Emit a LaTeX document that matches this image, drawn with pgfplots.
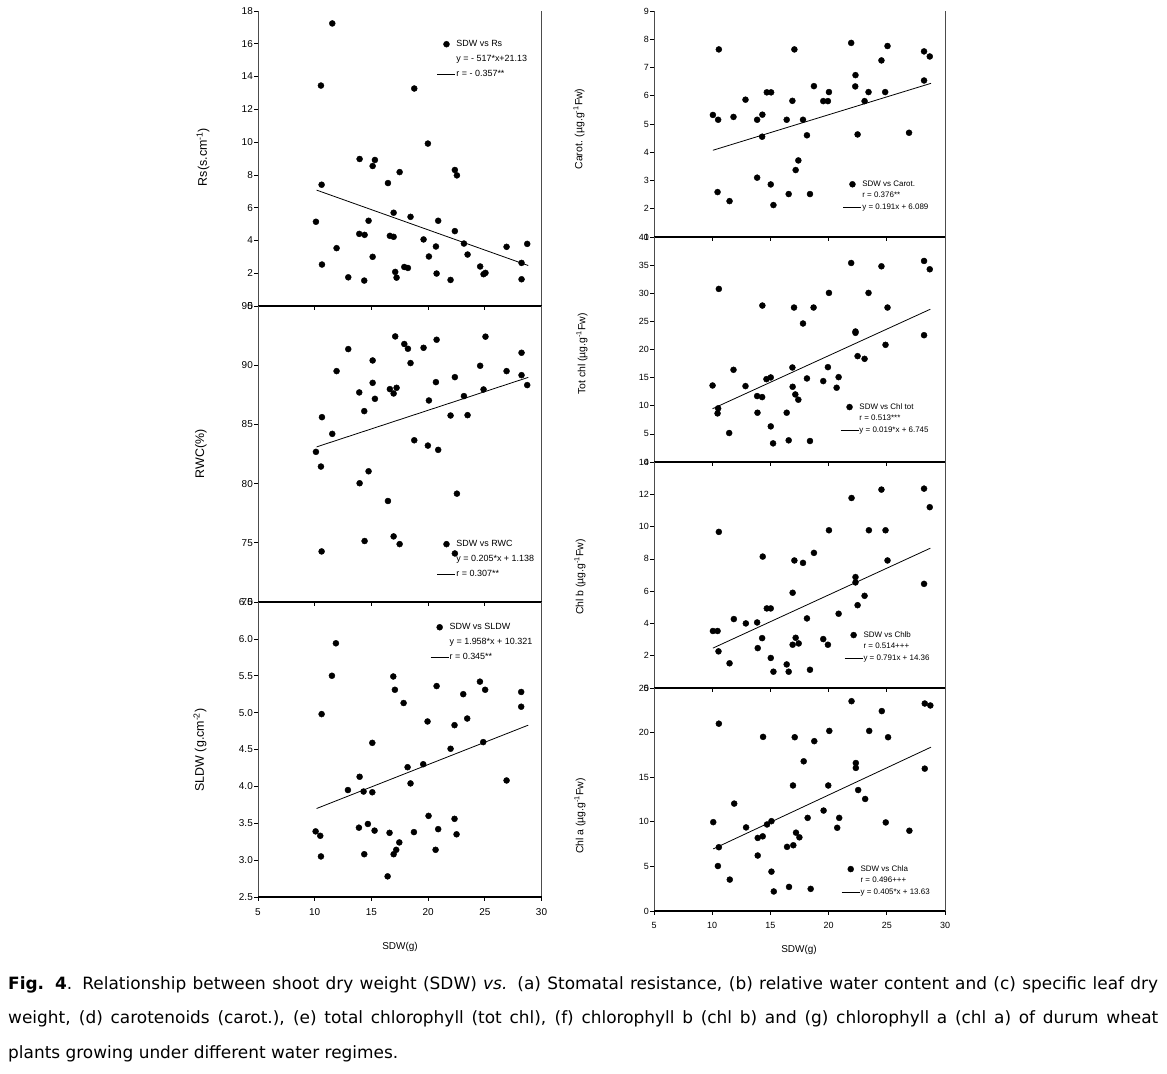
\documentclass[border=0pt]{standalone}
\usepackage{fontspec}
\setmainfont{Liberation Sans}
\newfontfamily\capfont{DejaVu Sans}
\usepackage{pgfplots}
\pgfplotsset{compat=1.18}

\pgfplotsset{
  panel/.style={scale only axis, anchor=south west, xmin=5, xmax=30, xtick={5,10,15,20,25,30},
    axis line style={draw=none}, tick align=outside, xtick pos=bottom, ytick pos=left,
    major tick length=4bp, tick style={black, line width=0.7bp},
    clip=false, /pgf/number format/assume math mode=true,
    legend cell align=left,
    legend image code/.code={\draw[mark repeat=2,mark phase=2,##1] plot coordinates {(0bp,0bp)(9bp,0bp)(18bp,0bp)};},
  },
  leftpanel/.style={panel, width=283.5bp,
    yticklabel style={font=\fontsize{10}{10}\selectfont, inner sep=1bp},
    xticklabel style={font=\fontsize{10}{10}\selectfont, yshift=-4bp},
    legend style={font=\fontsize{9}{9}\selectfont, draw=none, fill=none, inner sep=0pt, row sep=5bp,
      nodes={inner sep=0.5bp, text height=7bp, text depth=2bp}, anchor=north west}},
  rightpanel/.style={panel, width=291bp,
    yticklabel style={font=\fontsize{9}{9}\selectfont, inner sep=1bp},
    xticklabel style={font=\fontsize{9}{9}\selectfont, yshift=-4bp},
    legend style={font=\fontsize{8}{8}\selectfont, draw=none, fill=none, inner sep=0pt, row sep=2.5bp,
      nodes={inner sep=0.5bp, text height=6bp, text depth=2bp}, anchor=north west}},
  dots/.style={only marks, mark=*, mark size=3bp, black, mark options={fill=black, draw=black}},
  reg/.style={black, line width=0.8bp, no marks},
}
\newcommand{\frameit}{%
  \draw[black!70, line width=0.9bp] (rel axis cs:0,0) -- (rel axis cs:0,1);
  \draw[black!70, line width=0.9bp] (rel axis cs:1,0) -- (rel axis cs:1,1);
  \draw[black, line width=1.6bp] (rel axis cs:0,0) -- (rel axis cs:1,0);}

\begin{document}
\begin{tikzpicture}
\path[use as bounding box, fill=white] (0,0) rectangle (1167bp,1074bp);

% (a) Rs
\begin{axis}[leftpanel, at={(258bp,768bp)}, height=295bp, ymin=0, ymax=18, ytick={0,2,...,18},
  xticklabels={}, legend style={at={(0.631,0.905)}}]
\frameit
\addplot[dots] coordinates {(10.11,5.14)(10.55,13.45)(10.61,7.4)(10.64,2.53)(11.55,17.24)(11.93,3.53)(12.96,1.75)(13.96,8.97)(13.93,4.4)(14.37,1.55)(14.4,4.34)(14.75,5.2)(15.11,8.54)(15.31,8.91)(15.11,3.0)(16.46,7.5)(16.63,4.28)(16.96,4.22)(16.96,5.69)(17.1,2.08)(17.22,1.73)(17.49,8.17)(17.9,2.38)(18.22,2.32)(18.45,5.44)(18.78,13.27)(19.6,4.06)(19.98,9.91)(20.07,3.02)(20.69,3.63)(20.75,1.98)(20.89,5.2)(21.98,1.59)(22.36,8.3)(22.54,7.97)(22.36,4.57)(23.16,3.81)(23.48,3.14)(24.59,2.41)(24.89,1.94)(25.06,2.02)(26.92,3.61)(28.24,2.63)(28.24,1.63)(28.74,3.79)};
\addlegendentry{SDW vs Rs}
\addlegendimage{empty legend}\addlegendentry{y = - 517*x+21.13}
\addplot[reg] coordinates {(10.17,7.07)(28.83,2.47)};
\addlegendentry{r = - 0.357**}
\end{axis}

% (b) RWC
\begin{axis}[leftpanel, at={(258bp,472bp)}, height=296bp, ymin=70, ymax=95, ytick={70,75,...,95},
  xticklabels={}, legend style={at={(0.631,0.213)}}]
\frameit
\addplot[dots] coordinates {(10.11,82.68)(10.55,81.44)(10.64,85.61)(10.61,74.27)(11.55,84.2)(11.93,89.5)(12.96,91.36)(13.93,87.7)(13.96,80.03)(14.37,86.12)(14.4,75.15)(14.75,81.04)(15.11,90.4)(15.11,88.51)(15.31,87.16)(16.46,78.53)(16.63,87.98)(16.96,87.61)(16.96,75.54)(17.1,92.43)(17.22,88.09)(17.49,74.89)(17.9,91.79)(18.22,91.39)(18.45,90.18)(18.78,83.66)(19.6,91.47)(19.98,83.21)(20.07,87.02)(20.69,88.57)(20.75,92.15)(20.89,82.85)(21.98,85.75)(22.36,88.99)(22.36,74.1)(22.54,79.15)(23.16,87.39)(23.48,85.78)(24.59,89.95)(24.89,87.95)(25.06,92.41)(26.92,89.5)(28.24,91.05)(28.24,89.16)(28.74,88.32)};
\addlegendentry{SDW vs RWC}
\addlegendimage{empty legend}\addlegendentry{y = 0.205*x + 1.138}
\addplot[reg] coordinates {(10.17,83.1)(28.83,88.97)};
\addlegendentry{r = 0.307**}
\end{axis}

% (c) SLDW
\begin{axis}[leftpanel, at={(258bp,177bp)}, height=295bp, ymin=2.5, ymax=6.5, ytick={2.5,3,...,6.5},
  yticklabel style={/pgf/number format/.cd, fixed, fixed zerofill, precision=1},
  legend style={at={(0.607,0.932)}}]
\frameit
\addplot[dots] coordinates {(10.08,3.39)(10.49,3.33)(10.55,3.05)(10.61,4.98)(11.52,5.5)(11.87,5.94)(12.93,3.95)(13.9,3.44)(13.96,4.13)(14.31,3.93)(14.37,3.08)(14.69,3.49)(15.08,4.59)(15.08,3.92)(15.28,3.4)(16.43,2.78)(16.6,3.37)(16.93,5.49)(17.07,5.31)(16.96,3.08)(17.19,3.14)(17.46,3.24)(17.84,5.13)(18.19,4.26)(18.45,4.04)(18.75,3.38)(19.57,4.3)(19.95,4.88)(20.04,3.6)(20.66,3.14)(20.75,5.36)(20.89,3.42)(21.98,4.51)(22.33,3.56)(22.33,4.83)(22.51,3.35)(23.1,5.25)(23.45,4.92)(24.57,5.42)(24.86,4.6)(25.03,5.31)(26.92,4.08)(28.21,5.28)(28.21,5.08)};
\addlegendentry{SDW vs SLDW}
\addlegendimage{empty legend}\addlegendentry{y = 1.958*x + 10.321}
\addplot[reg] coordinates {(10.17,3.7)(28.83,4.83)};
\addlegendentry{r = 0.345**}
\end{axis}

% (d) Carot
\begin{axis}[rightpanel, at={(654bp,837bp)}, height=226bp, ymin=1, ymax=9, ytick={1,2,...,9},
  xticklabels={}, legend style={at={(0.649,0.254)}}]
\frameit
\addplot[dots] coordinates {(10.06,5.32)(10.51,5.15)(10.57,7.64)(10.46,2.59)(11.49,2.27)(11.83,5.25)(12.86,5.86)(13.86,5.15)(13.86,3.1)(14.31,5.33)(14.29,4.55)(14.69,6.12)(15.06,6.12)(15.03,2.86)(15.26,2.13)(16.4,5.15)(16.57,2.52)(16.89,5.82)(17.06,7.64)(17.17,3.37)(17.4,3.71)(17.8,5.15)(18.14,4.6)(18.4,2.52)(18.74,6.34)(19.54,5.81)(19.94,5.81)(20.03,6.13)(21.94,7.87)(22.31,6.73)(22.29,6.33)(22.49,4.63)(23.09,5.81)(23.43,6.13)(24.54,7.25)(24.86,6.13)(25.06,7.76)(26.91,4.69)(28.2,7.57)(28.2,6.54)(28.69,7.39)};
\addlegendentry{SDW vs Carot.}
\addlegendimage{empty legend}\addlegendentry{r = 0.376**}
\addplot[reg] coordinates {(10.06,4.07)(28.8,6.44)};
\addlegendentry{y = 0.191x + 6.089}
\end{axis}

% (e) Tot chl
\begin{axis}[rightpanel, at={(654bp,612bp)}, height=225bp, ymin=0, ymax=40, ytick={0,5,...,40},
  xticklabels={}, legend style={at={(0.639,0.265)}}]
\frameit
\addplot[dots] coordinates {(10.03,13.6)(10.46,8.64)(10.51,9.53)(10.57,30.77)(11.46,5.15)(11.83,16.39)(12.86,13.49)(13.86,11.72)(13.89,8.76)(14.29,11.54)(14.31,27.81)(14.66,14.73)(15.03,15.03)(15.03,6.33)(15.23,3.31)(16.4,8.76)(16.57,3.85)(16.89,16.8)(16.91,13.37)(17.03,27.46)(17.14,12.01)(17.4,11.07)(17.8,24.62)(18.14,14.85)(18.4,3.73)(18.71,27.46)(19.54,14.38)(19.94,16.86)(20.03,30.06)(20.69,13.2)(20.86,15.09)(21.94,35.38)(22.31,23.2)(22.31,22.96)(22.49,18.82)(23.09,18.34)(23.43,30.06)(24.54,34.79)(24.89,20.83)(25.06,27.46)(28.2,35.74)(28.2,22.54)(28.69,34.26)};
\addlegendentry{SDW vs Chl tot}
\addlegendimage{empty legend}\addlegendentry{r = 0.513***}
\addplot[reg] coordinates {(10.03,9.47)(28.74,27.16)};
\addlegendentry{y = 0.019*x + 6.745}
\end{axis}

% (f) Chl b
\begin{axis}[rightpanel, at={(654bp,386bp)}, height=226bp, ymin=0, ymax=14, ytick={0,2,...,14},
  xticklabels={}, legend style={at={(0.653,0.255)}}]
\frameit
\addplot[dots] coordinates {(10.06,3.53)(10.46,3.53)(10.57,9.67)(10.54,2.27)(11.49,1.53)(11.86,4.27)(12.89,4.0)(13.86,4.06)(13.91,2.47)(14.29,3.09)(14.34,8.14)(14.69,4.93)(15.03,4.93)(15.03,1.86)(15.26,1.01)(16.4,1.46)(16.57,1.01)(16.91,5.9)(16.91,2.68)(17.06,7.9)(17.17,3.11)(17.43,2.76)(17.8,7.75)(18.14,4.31)(18.4,1.13)(18.74,8.37)(19.54,3.03)(19.94,2.68)(20.03,9.77)(20.86,4.6)(21.97,11.77)(22.31,6.87)(22.31,6.54)(22.49,5.13)(23.09,5.71)(23.46,9.77)(24.54,12.29)(24.89,9.77)(25.06,7.9)(28.2,12.35)(28.2,6.45)(28.69,11.2)};
\addlegendentry{SDW vs Chlb}
\addlegendimage{empty legend}\addlegendentry{r = 0.514+++}
\addplot[reg] coordinates {(10.06,2.47)(28.74,8.66)};
\addlegendentry{y = 0.791x + 14.36}
\end{axis}

% (g) Chl a
\begin{axis}[rightpanel, at={(654bp,163bp)}, height=223bp, ymin=0, ymax=25, ytick={0,5,...,25},
  legend style={at={(0.643,0.209)}}]
\frameit
\addplot[dots] coordinates {(10.09,9.96)(10.57,21.0)(10.57,7.15)(10.49,5.04)(11.51,3.52)(11.89,12.04)(12.91,9.37)(13.91,8.19)(13.91,6.22)(14.37,19.52)(14.34,8.37)(14.71,9.7)(15.09,10.07)(15.09,4.41)(15.29,2.19)(16.43,7.19)(16.6,2.7)(16.94,14.07)(16.97,7.37)(17.09,19.48)(17.2,8.78)(17.49,8.26)(17.86,16.78)(18.2,10.44)(18.46,2.48)(18.77,19.04)(19.57,11.26)(19.97,14.07)(20.06,20.19)(20.74,9.33)(20.91,10.44)(21.97,23.52)(22.34,16.59)(22.34,16.04)(22.54,13.56)(23.14,12.56)(23.49,20.19)(24.57,22.41)(24.91,9.93)(25.11,19.48)(26.94,9.0)(28.26,23.26)(28.74,23.04)(28.26,15.96)};
\addlegendentry{SDW vs Chla}
\addlegendimage{empty legend}\addlegendentry{r = 0.496+++}
\addplot[reg] coordinates {(10.09,6.96)(28.8,18.37)};
\addlegendentry{y = 0.405*x + 13.63}
\end{axis}

% axis labels
\node[rotate=90, font=\fontsize{12.5}{12.5}\selectfont] at (203bp,917bp) {Rs(s.cm\textsuperscript{-1})};
\node[rotate=90, font=\fontsize{12.5}{12.5}\selectfont] at (201bp,620bp) {RWC(\%)};
\node[rotate=90, font=\fontsize{12.5}{12.5}\selectfont] at (200bp,324bp) {SLDW (g.cm\textsuperscript{-2})};
\node[font=\fontsize{10}{10}\selectfont] at (400bp,127bp) {SDW(g)};
\node[rotate=90, font=\fontsize{10.5}{10.5}\selectfont] at (579bp,945bp) {Carot. (µg.g\textsuperscript{-1}Fw)};
\node[rotate=90, font=\fontsize{10.5}{10.5}\selectfont] at (582bp,720bp) {Tot chl (µg.g\textsuperscript{-1}Fw)};
\node[rotate=90, font=\fontsize{10.5}{10.5}\selectfont] at (580bp,497bp) {Chl b (µg.g\textsuperscript{-1}Fw)};
\node[rotate=90, font=\fontsize{10.5}{10.5}\selectfont] at (580bp,258bp) {Chl a (µg.g\textsuperscript{-1}Fw)};
\node[font=\fontsize{10}{10}\selectfont] at (799bp,124bp) {SDW(g)};

% caption
\node[anchor=north west, inner sep=0pt, text width=1150bp, align=justify,
  font=\capfont\fontsize{17}{35}\selectfont] at (8bp,98bp)
  {\textbf{Fig. 4}. Relationship between shoot dry weight (SDW) \textit{vs.} (a) Stomatal resistance, (b) relative water content and (c) specific leaf dry\linebreak
  weight, (d) carotenoids (carot.), (e) total chlorophyll (tot chl), (f) chlorophyll b (chl b) and (g) chlorophyll a (chl a) of durum wheat\linebreak
  plants growing under different water regimes.};
\end{tikzpicture}
\end{document}
